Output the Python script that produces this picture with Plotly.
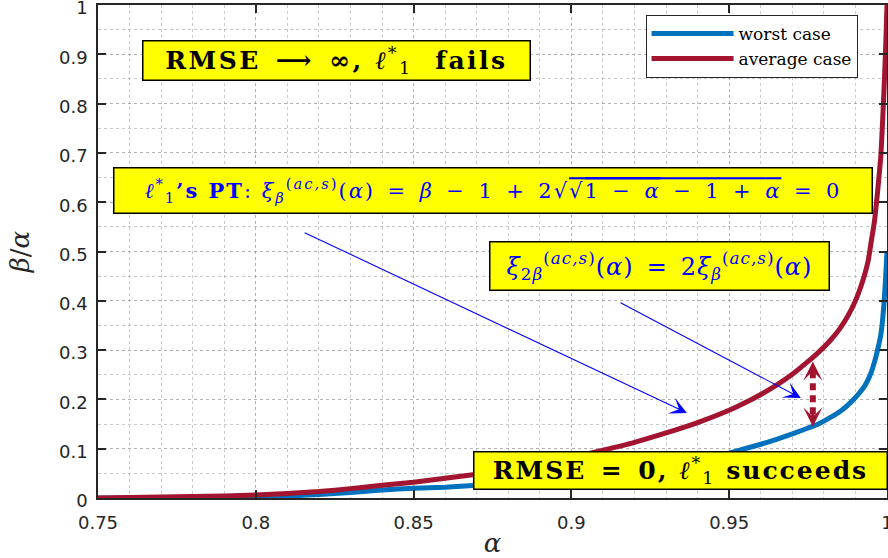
import plotly.graph_objects as go

# ---------------- data ----------------
alpha_worst = [0.75, 0.76, 0.77, 0.78, 0.79, 0.80, 0.81, 0.82, 0.83, 0.84, 0.85, 0.86, 0.87,
               0.88, 0.89, 0.90, 0.91, 0.92, 0.93, 0.94, 0.95, 0.955, 0.96, 0.965, 0.97,
               0.975, 0.9775, 0.98, 0.9825, 0.985, 0.9875, 0.99, 0.9915, 0.993, 0.994, 0.995,
               0.996, 0.997, 0.998, 0.9985, 0.999, 0.9995, 1.0]
ratio_worst = [0.000, 0.000, 0.001, 0.001, 0.002, 0.003, 0.004, 0.007, 0.011, 0.016, 0.020, 0.022, 0.026,
               0.030, 0.035, 0.041, 0.048, 0.056, 0.066, 0.077, 0.091, 0.100, 0.109, 0.119, 0.130,
               0.142, 0.148, 0.156, 0.165, 0.175, 0.188, 0.204, 0.215, 0.228, 0.240, 0.255,
               0.275, 0.300, 0.330, 0.355, 0.390, 0.440, 0.500]

alpha_avg = [0.75, 0.76, 0.77, 0.78, 0.79, 0.80, 0.81, 0.82, 0.83, 0.84, 0.85, 0.86, 0.87,
             0.88, 0.89, 0.90, 0.91, 0.92, 0.93, 0.94, 0.95, 0.955, 0.96, 0.965, 0.97,
             0.975, 0.9775, 0.98, 0.9825, 0.985, 0.9875, 0.99, 0.9915, 0.993, 0.994, 0.995,
             0.996, 0.997, 0.998, 0.9985, 0.999, 0.9995, 1.0]
ratio_avg = [0.000, 0.001, 0.002, 0.003, 0.004, 0.006, 0.009, 0.013, 0.019, 0.026, 0.032, 0.040, 0.048,
             0.058, 0.069, 0.082, 0.097, 0.113, 0.132, 0.153, 0.178, 0.193, 0.210, 0.229, 0.251,
             0.277, 0.291, 0.306, 0.323, 0.343, 0.368, 0.400, 0.425, 0.455, 0.480, 0.520,
             0.560, 0.620, 0.690, 0.750, 0.820, 0.900, 1.000]

series_names = ["worst case", "average case"]
x_tickvals = [0.75, 0.80, 0.85, 0.90, 0.95, 1.0]
x_ticktext = ["0.75", "0.8", "0.85", "0.9", "0.95", "1"]
y_tickvals = [0, 0.1, 0.2, 0.3, 0.4, 0.5, 0.6, 0.7, 0.8, 0.9, 1.0]
y_ticktext = ["0", "0.1", "0.2", "0.3", "0.4", "0.5", "0.6", "0.7", "0.8", "0.9", "1"]

# ---------------- styles ----------------
BLUE = "#0072BD"
RED = "#A2142F"
AX = "#262626"
GRID = "rgba(150,150,150,0.5)"
SERIF = "DejaVu Serif, Liberation Serif, serif"
SANS = "DejaVu Sans, Liberation Sans, sans-serif"
TXT_BLUE = "#0000FF"
YELLOW = "#FFFF00"
SP = "\u2002"  # wide space around operators

fig = go.Figure()
fig.add_trace(go.Scatter(x=alpha_worst, y=ratio_worst, mode="lines", name=series_names[0],
                         line=dict(color=BLUE, width=5, shape="spline", smoothing=0.5)))
fig.add_trace(go.Scatter(x=alpha_avg, y=ratio_avg, mode="lines", name=series_names[1],
                         line=dict(color=RED, width=5, shape="spline", smoothing=0.5)))

axis_common = dict(
    showline=True, linecolor=AX, linewidth=1.5, mirror="ticks",
    ticks="inside", ticklen=8, tickwidth=1.5, tickcolor=AX,
    showgrid=True, gridcolor=GRID, griddash="dot", gridwidth=1,
    zeroline=False, tickfont=dict(family=SANS, size=18, color=AX),
    ticklabeloverflow="allow", automargin=False,
)

fig.update_xaxes(range=[0.75, 1.0], tickvals=x_tickvals, ticktext=x_ticktext, ticklabelstandoff=8,
                 minor=dict(dtick=0.01, tick0=0.75, showgrid=True, gridcolor=GRID, griddash="dot", ticks=""),
                 title=dict(text="<i>α</i>", font=dict(family=SERIF, size=26, color=AX), standoff=4),
                 **axis_common)
fig.update_yaxes(range=[0, 1.0], tickvals=y_tickvals, ticktext=y_ticktext, ticklabelstandoff=5,
                 ticklabelshift=3,
                 minor=dict(dtick=0.05, tick0=0, showgrid=True, gridcolor=GRID, griddash="dot", ticks=""),
                 title=dict(text="<i>β</i>/<i>α</i>", font=dict(family=SERIF, size=26, color=AX), standoff=22),
                 **axis_common)

annotations = []

def box(x, y, text, w, h, color, size, family=SERIF):
    annotations.append(dict(x=x, y=y, xref="x", yref="y", text=text, showarrow=False,
                            font=dict(family=family, size=size, color=color),
                            bgcolor=YELLOW, bordercolor="#000000", borderwidth=1.5, borderpad=1,
                            width=w, height=h, align="center", valign="middle"))

def ls(px):
    return "<span style='letter-spacing:%spx'>" % px

box(0.8255, 0.888,
    ls(2.5) + "<b>RMSE" + SP + "⟶" + SP + "∞, </b><i>ℓ</i><sup>*</sup><sub>1</sub><b>  fails</b></span>",
    384, 36, "#000000", 25)
box(0.8753, 0.6247,
    ls(2) + "<i>ℓ</i><sup>*</sup><sub>1</sub><b>’s PT</b>: <i>ξ</i><sub><i>β</i></sub><sup>(<i>ac,s</i>)</sup>(<i>α</i>)"
    + SP + "=" + SP + "<i>β</i>" + SP + "−" + SP + "1" + SP + "+" + SP + "2√"
    "<span style='text-decoration:overline'>√<span style='text-decoration:overline'>1" + SP + "−" + SP
    + "<i>α</i></span>" + SP + "−" + SP + "1" + SP + "+" + SP + "<i>α</i></span>" + SP + "=" + SP + "0</span>",
    755, 42, TXT_BLUE, 21)
box(0.9278, 0.4716,
    ls(1) + "<i>ξ</i><sub>2<i>β</i></sub><sup>(<i>ac,s</i>)</sup>(<i>α</i>)" + SP + "=" + SP
    + "2<i>ξ</i><sub><i>β</i></sub><sup>(<i>ac,s</i>)</sup>(<i>α</i>)</span>",
    336, 45, TXT_BLUE, 24)
box(0.9345, 0.0548,
    ls(2) + "<b>RMSE" + SP + "=" + SP + "0, </b><i>ℓ</i><sup>*</sup><sub>1</sub><b> succeeds</b></span>",
    410, 34, "#000000", 25)

# blue pointer arrows
for (tx, ty, hx, hy) in [(0.8150, 0.5396, 0.9366, 0.1724), (0.9151, 0.3976, 0.9727, 0.2028)]:
    annotations.append(dict(x=hx, y=hy, ax=tx, ay=ty, xref="x", yref="y", axref="x", ayref="y",
                            text="", showarrow=True, arrowhead=3, arrowsize=2.6, arrowwidth=1.1,
                            arrowcolor=TXT_BLUE))

# red double-headed dashed arrow (heads)
annotations.append(dict(x=0.9765, y=0.277, xref="x", yref="y", ax=0, ay=16, text="", showarrow=True,
                        arrowhead=3, arrowsize=1.0, arrowwidth=3.2, arrowcolor=RED))
annotations.append(dict(x=0.9765, y=0.145, xref="x", yref="y", ax=0, ay=-16, text="", showarrow=True,
                        arrowhead=3, arrowsize=1.0, arrowwidth=3.2, arrowcolor=RED))

fig.add_shape(type="line", xref="x", yref="y", x0=0.9765, x1=0.9765, y0=0.17, y1=0.255,
              line=dict(color=RED, width=6, dash="7px,5px"))

fig.update_layout(
    width=888, height=558,
    margin=dict(l=98, r=1, t=5, b=60),
    paper_bgcolor="white", plot_bgcolor="white",
    annotations=annotations,
    showlegend=True,
    legend=dict(x=0.694, y=0.98, xanchor="left", yanchor="top",
                bgcolor="white", bordercolor=AX, borderwidth=1,
                font=dict(family=SERIF, size=17, color="#000000"),
                tracegroupgap=0, itemwidth=82),
)

fig.write_html("out.html", config={"displayModeBar": False},
               post_script="document.body.style.margin='0px';")
